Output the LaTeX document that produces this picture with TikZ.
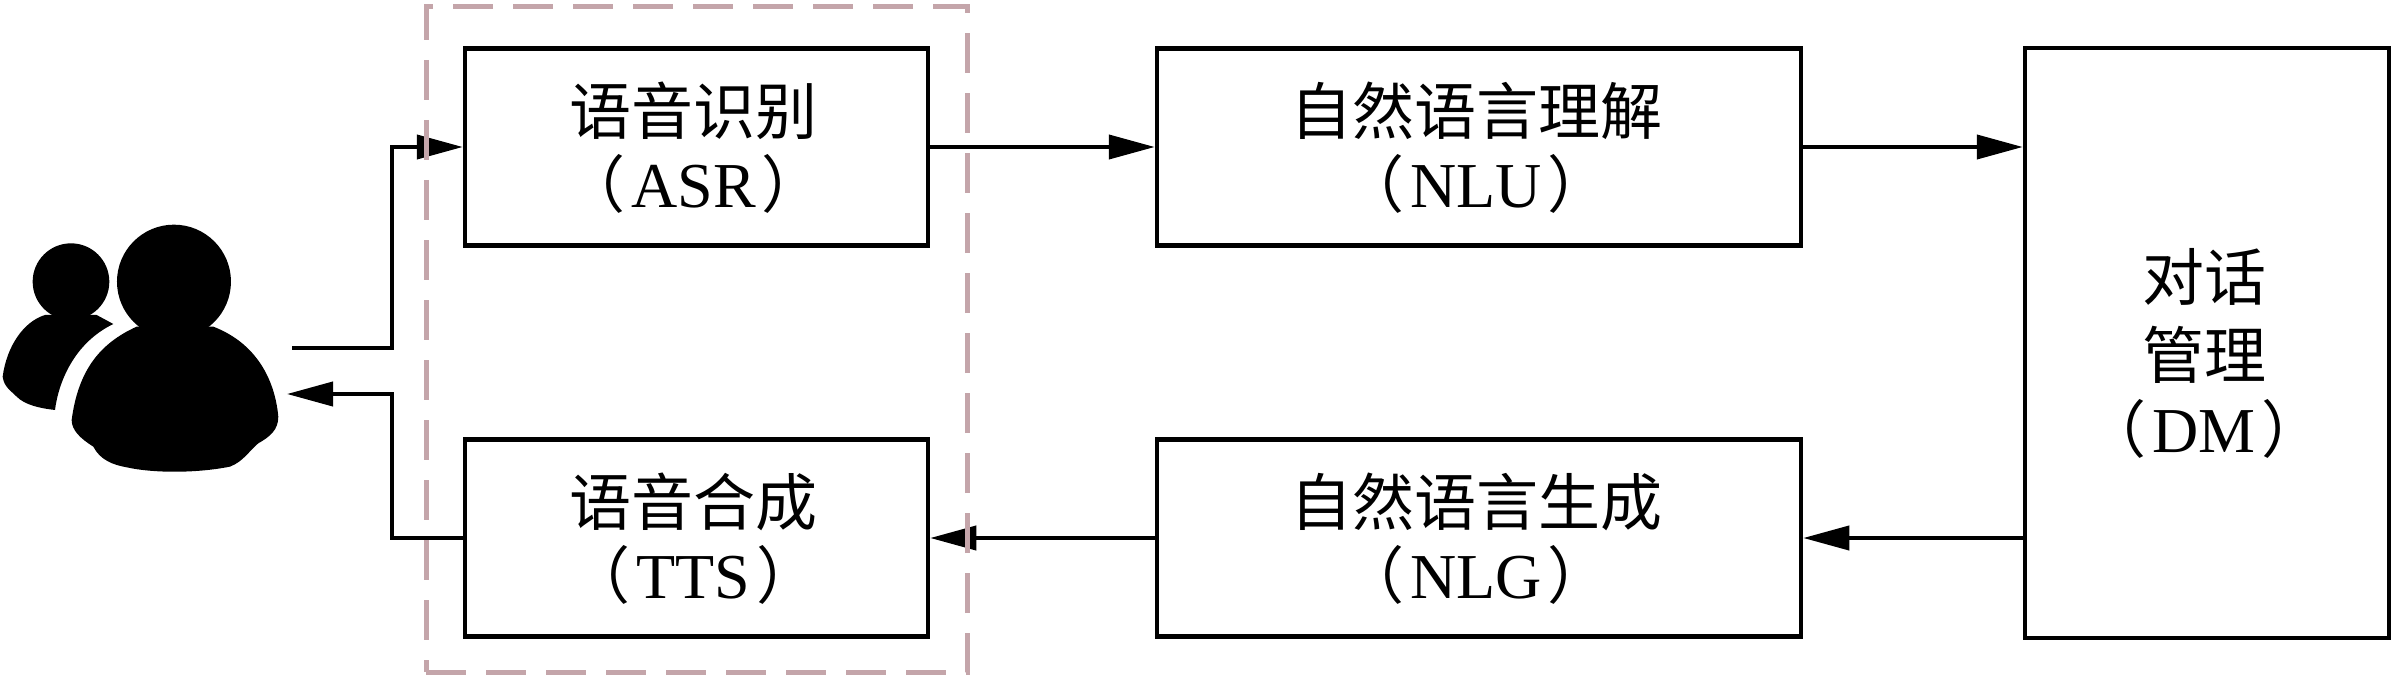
\documentclass[tikz,border=0pt]{standalone}
\usepackage{fontspec}
\setmainfont{Liberation Serif}
\newfontfamily\cjk{Noto Sans CJK SC}
\usetikzlibrary{arrows.meta}
\newcommand\blocktext[2][-14pt]{\kern-6pt\raisebox{#1}[0pt][0pt]{\begin{tabular}{@{}c@{}}#2\end{tabular}}}
\newcommand\fullparen[1]{{\cjk （}\kern6pt {\fontsize{64}{66}\selectfont #1}\kern6pt{\cjk ）}}
\definecolor{dashpink}{HTML}{C4A5AA}
\tikzset{
  blockbox/.style={rectangle, draw, line width=4.5pt, inner sep=0pt,
    font=\fontsize{62}{66}\selectfont},
  wideblock/.style={blockbox, minimum width=#1, minimum height=197pt},
  flowline/.style={line width=4pt, -{Triangle[length=46pt,width=24pt]}},
  groupbox/.style={rectangle, draw=dashpink, line width=5pt, dash pattern=on 40pt off 20pt,
    minimum width=541pt, minimum height=665pt, inner sep=0pt}
}
\begin{document}
\begin{tikzpicture}[x=1pt, y=-1pt]
  \useasboundingbox (0,0) rectangle (2395,679);

  \begin{scope}[x=0.3333pt, y=-0.3333pt, yshift=-180pt]
    \fill (213,305) circle [radius=115];
    \fill (135,405) .. controls (70,425) and (20,500) .. (8,590)
      .. controls (12,620) and (30,630) .. (50,650)
      .. controls (75,675) and (120,685) .. (165,690)
      .. controls (175,610) and (220,490) .. (340,432) -- (290,405) -- cycle;
    \fill (522,305) circle [radius=171];
    \fill (410,440) .. controls (300,490) and (235,570) .. (215,720)
      .. controls (215,750) and (240,775) .. (280,800)
      .. controls (300,840) and (340,855) .. (380,862)
      .. controls (460,880) and (590,880) .. (690,860)
      .. controls (730,845) and (750,810) .. (775,790)
      .. controls (810,770) and (835,750) .. (835,710)
      .. controls (825,600) and (770,490) .. (640,440) -- cycle;
  \end{scope}
  \coordinate (userout) at (292,348);
  \coordinate (userin) at (287,394);

  \node[wideblock=463pt] (asr) at (696.5,147) {\blocktext{{\cjk 语音识别}\\\fullparen{ASR}}};
  \node[wideblock=644pt] (nlu) at (1479,147) {\blocktext{{\cjk 自然语言理解}\\\fullparen{NLU}}};
  \node[wideblock=463pt] (tts) at (696.5,538) {\blocktext{{\cjk 语音合成}\\\fullparen{TTS}}};
  \node[wideblock=644pt] (nlg) at (1479,538) {\blocktext{{\cjk 自然语言生成}\\\fullparen{NLG}}};
  \node[blockbox, minimum width=364pt, minimum height=590pt] (dm) at (2207,343)
    {\blocktext[-24pt]{{\cjk 对话}\\[5pt]{\cjk 管理}\\[2pt]\fullparen{DM}}};

  \draw[flowline] (userout) -- ++(100,0) |- (asr);
  \draw[flowline] (asr) -- (nlu);
  \draw[flowline] (nlu.east) -- (nlu.east -| dm.west);
  \draw[flowline] (nlg.east -| dm.west) -- (nlg);
  \draw[flowline] (nlg) -- (tts);
  \draw[flowline] (tts.west) -- ++(-71,0) |- (userin);

  \node[groupbox] (asrtts) at (696.5,339.5) {};
\end{tikzpicture}
\end{document}
